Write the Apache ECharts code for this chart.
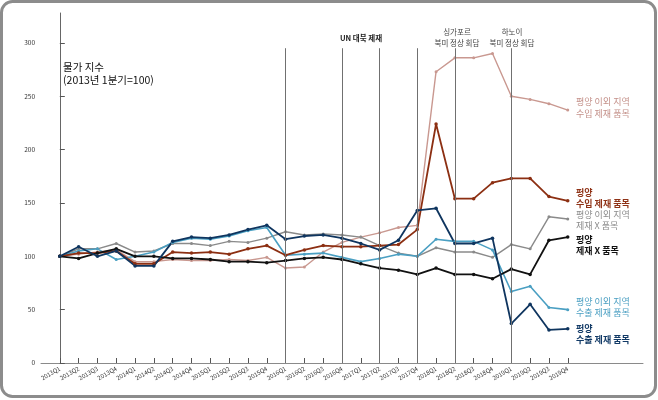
<!DOCTYPE html>
<html lang="ko">
<head>
    <meta charset="UTF-8">
    <title>물가 지수</title>
    <script src="https://cdn.jsdelivr.net/npm/echarts/dist/echarts.min.js"></script>
    <style>
        html, body { margin: 0; padding: 0; background: #fff; }
    </style>
</head>
<body>
    <div id="main" style="width: 658px;height:400px;"></div>
    <script>
        // 분기 라벨
        const quarters = [
            '2013Q1', '2013Q2', '2013Q3', '2013Q4', '2014Q1', '2014Q2', '2014Q3', '2014Q4',
            '2015Q1', '2015Q2', '2015Q3', '2015Q4', '2016Q1', '2016Q2', '2016Q3', '2016Q4',
            '2017Q1', '2017Q2', '2017Q3', '2017Q4', '2018Q1', '2018Q2', '2018Q3', '2018Q4',
            '2019Q1', '2019Q2', '2019Q3', '2019Q4'
        ];
        const yTicks = [0, 50, 100, 150, 200, 250, 300];

        // 평양 이외 지역 수입 제재 품목
        const outsideImport = [100, 102, 104, 106, 95, 95, 97, 96, 96, 97, 96, 99, 89, 90, 104, 113,
            118, 122, 127, 129, 273, 286, 286, 290, 250, 247, 243, 237];
        // 평양 수입 제재 품목
        const pyImport = [100, 103, 103, 105, 93, 93, 104, 103, 104, 102, 107, 110, 101, 106, 110, 109,
            109, 110, 111, 125, 224, 154, 154, 169, 173, 173, 156, 152];
        // 평양 이외 지역 제재 X 품목
        const outsideNon = [100, 107, 107, 112, 104, 105, 112, 112, 110, 114, 113, 117, 123, 120, 121, 120,
            118, 110, 103, 100, 108, 104, 104, 99, 111, 107, 137, 135];
        // 평양 제재 X 품목
        const pyNon = [100, 98, 103, 107, 100, 100, 98, 98, 97, 95, 95, 94, 96, 98, 99, 97,
            93, 89, 87, 83, 89, 83, 83, 79, 88, 83, 115, 118];
        // 평양 이외 지역 수출 제재 품목
        const outsideExport = [100, 105, 107, 97, 100, 104, 113, 117, 116, 119, 124, 127, 101, 102, 103, 99,
            95, 98, 102, 100, 116, 114, 114, 106, 67, 72, 52, 50];
        // 평양 수출 제재 품목
        const pyExport = [100, 109, 100, 105, 91, 91, 114, 118, 117, 120, 125, 129, 116, 119, 120, 117,
            112, 106, 115, 143, 145, 112, 112, 117, 37, 55, 31, 32];

        // 세로 기준선 (분기 인덱스)
        const eventLines = [12, 15, 17, 19, 21, 24];

        const FONT = '"Noto Sans CJK KR", "Noto Sans", sans-serif';

        function toPoints(arr) {
            return arr.map((v, i) => [i, v]);
        }

        function lineSeries(name, data, color, width, size) {
            return {
                name: name,
                type: 'line',
                data: toPoints(data),
                symbol: 'circle',
                symbolSize: size,
                showSymbol: true,
                lineStyle: { color: color, width: width },
                itemStyle: { color: color },
                emphasis: { disabled: true },
                animation: false
            };
        }

        const series = [
            lineSeries('평양 이외 지역 수입 제재 품목', outsideImport, '#c99890', 1.4, 3),
            lineSeries('평양 이외 지역 제재 X 품목', outsideNon, '#8a8a8a', 1.4, 3),
            lineSeries('평양 이외 지역 수출 제재 품목', outsideExport, '#4a9fc2', 1.6, 3),
            lineSeries('평양 수입 제재 품목', pyImport, '#8c2f12', 1.8, 3.5),
            lineSeries('평양 제재 X 품목', pyNon, '#111111', 1.8, 3.5),
            lineSeries('평양 수출 제재 품목', pyExport, '#0f355f', 1.8, 3.5)
        ];

        // 기준선은 첫 시리즈의 markLine으로
        series[0].markLine = {
            silent: true,
            symbol: 'none',
            label: { show: false },
            lineStyle: { color: '#707070', width: 1, type: 'solid' },
            data: eventLines.map(x => [{ coord: [x, 0] }, { coord: [x, 295] }])
        };
        series[0].z = 2;

        function txt(x, y, text, color, size, weight, align) {
            return {
                type: 'text',
                x: x,
                y: y,
                z: 100,
                style: {
                    text: text,
                    fill: color,
                    fontSize: size,
                    fontWeight: weight || 'normal',
                    fontFamily: FONT,
                    textAlign: align || 'left',
                    align: align || 'left',
                    textVerticalAlign: 'middle',
                    verticalAlign: 'middle'
                }
            };
        }

        const chart = echarts.init(document.getElementById('main'));
        const option = {
            backgroundColor: '#fff',
            animation: false,
            textStyle: { fontFamily: FONT },
            grid: {
                left: 41,
                right: 15,
                top: 13,
                bottom: 37
            },
            xAxis: {
                type: 'value',
                min: -1,
                max: 31,
                splitLine: { show: false },
                axisLine: { show: true, lineStyle: { color: '#8a8a8a', width: 1 } },
                axisTick: {
                    show: true,
                    inside: true,
                    length: 5,
                    customValues: quarters.map((q, i) => i),
                    lineStyle: { color: '#555' }
                },
                axisLabel: {
                    customValues: quarters.map((q, i) => i),
                    formatter: v => quarters[v] || '',
                    rotate: 30,
                    fontSize: 6,
                    color: '#333',
                    margin: 5
                }
            },
            yAxis: {
                type: 'value',
                min: 0,
                max: 328,
                splitLine: { show: false },
                axisLine: { show: true, lineStyle: { color: '#666', width: 1 } },
                axisTick: {
                    show: true,
                    inside: true,
                    length: 5,
                    customValues: yTicks,
                    lineStyle: { color: '#555' }
                },
                axisLabel: {
                    customValues: yTicks,
                    fontSize: 6.5,
                    color: '#333',
                    margin: 6
                }
            },
            graphic: [
                {
                    type: 'rect',
                    z: 0,
                    shape: { x: 1.5, y: 1.5, width: 654, height: 395, r: 11 },
                    style: { fill: 'none', stroke: '#8c8c8c', lineWidth: 3 }
                },
                txt(63, 67, '물가 지수', '#111', 10.5, 'normal'),
                txt(63, 80, '(2013년 1분기=100)', '#111', 10.5, 'normal'),

                txt(361, 38, 'UN 대북 제재', '#222', 7.5, 'bold', 'center'),
                txt(457, 32, '싱가포르', '#444', 7.5, 'normal', 'center'),
                txt(457, 43, '북미 정상 회담', '#444', 7.5, 'normal', 'center'),
                txt(512, 32, '하노이', '#444', 7.5, 'normal', 'center'),
                txt(512, 43, '북미 정상 회담', '#444', 7.5, 'normal', 'center'),

                txt(576, 102, '평양 이외 지역', '#c4918a', 9),
                txt(576, 114, '수입 제재 품목', '#c4918a', 9),
                txt(576, 193, '평양', '#8f3216', 9, 'bold'),
                txt(576, 204, '수입 제재 품목', '#8f3216', 9, 'bold'),
                txt(576, 215, '평양 이외 지역', '#8c8c8c', 9),
                txt(576, 226, '제재 X 품목', '#8c8c8c', 9),
                txt(576, 240, '평양', '#111', 9, 'bold'),
                txt(576, 251, '제재 X 품목', '#111', 9, 'bold'),
                txt(576, 302, '평양 이외 지역', '#4a9fc2', 9),
                txt(576, 313, '수출 제재 품목', '#4a9fc2', 9),
                txt(576, 329, '평양', '#123a66', 9, 'bold'),
                txt(576, 340, '수출 제재 품목', '#123a66', 9, 'bold')
            ],
            series: series
        };

        chart.setOption(option);
    </script>
</body>
</html>
